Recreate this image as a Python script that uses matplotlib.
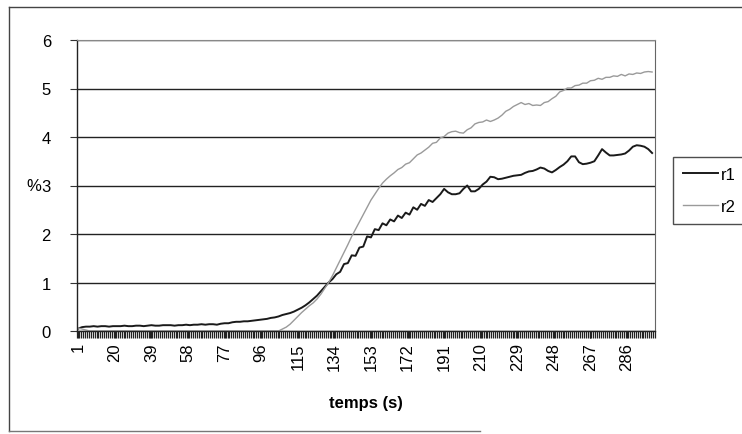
import numpy as np
import matplotlib.pyplot as plt
import matplotlib
from matplotlib.lines import Line2D

matplotlib.rcParams['font.family'] = ['Liberation Sans', 'DejaVu Sans']

# ============================================================
# Données (un point toutes les 2 s)
# ============================================================

temps = list(range(1, 300, 2))

r1 = [0.05, 0.08, 0.09, 0.09, 0.10, 0.09, 0.10, 0.10, 0.09, 0.10,
      0.10, 0.10, 0.11, 0.10, 0.10, 0.11, 0.11, 0.10, 0.11, 0.12,
      0.11, 0.11, 0.12, 0.12, 0.12, 0.11, 0.12, 0.12, 0.13, 0.12,
      0.13, 0.13, 0.14, 0.13, 0.14, 0.14, 0.13, 0.15, 0.16, 0.16,
      0.18, 0.19, 0.19, 0.20, 0.20, 0.21, 0.22, 0.23, 0.24, 0.25,
      0.27, 0.28, 0.30, 0.33, 0.35, 0.37, 0.40, 0.44, 0.48, 0.53,
      0.59, 0.66, 0.73, 0.82, 0.91, 1.00, 1.07, 1.17, 1.22, 1.38,
      1.40, 1.56, 1.55, 1.72, 1.74, 1.95, 1.93, 2.10, 2.08, 2.22,
      2.18, 2.30, 2.26, 2.38, 2.33, 2.44, 2.40, 2.55, 2.50, 2.62,
      2.58, 2.70, 2.66, 2.74, 2.82, 2.93, 2.86, 2.82, 2.82, 2.84,
      2.93, 3.00, 2.88, 2.88, 2.93, 3.02, 3.08, 3.18, 3.17, 3.13,
      3.14, 3.16, 3.18, 3.20, 3.21, 3.22, 3.26, 3.29, 3.30, 3.33,
      3.37, 3.35, 3.30, 3.27, 3.32, 3.38, 3.43, 3.50, 3.60, 3.60,
      3.48, 3.44, 3.45, 3.47, 3.50, 3.62, 3.75, 3.68, 3.62, 3.62,
      3.63, 3.64, 3.66, 3.72, 3.80, 3.83, 3.82, 3.80, 3.75, 3.67]

r2 = [0.06, 0.04, 0.02, 0.00, 0.00, 0.00, 0.00, 0.00, 0.00, 0.00,
      0.00, 0.00, 0.00, 0.00, 0.00, 0.00, 0.00, 0.00, 0.00, 0.00,
      0.00, 0.00, 0.00, 0.00, 0.00, 0.00, 0.00, 0.00, 0.00, 0.00,
      0.00, 0.00, 0.00, 0.00, 0.00, 0.00, 0.00, 0.00, 0.00, 0.00,
      0.00, 0.00, 0.00, 0.00, 0.00, 0.00, 0.00, 0.00, 0.00, 0.00,
      0.00, 0.00, 0.00, 0.04, 0.08, 0.14, 0.22, 0.30, 0.38, 0.45,
      0.52, 0.58, 0.66, 0.76, 0.88, 1.00, 1.14, 1.30, 1.46, 1.62,
      1.78, 1.95, 2.10, 2.25, 2.40, 2.55, 2.70, 2.82, 2.94, 3.05,
      3.13, 3.20, 3.26, 3.33, 3.37, 3.44, 3.47, 3.55, 3.63, 3.67,
      3.73, 3.79, 3.87, 3.89, 3.98, 4.01, 4.08, 4.11, 4.12, 4.09,
      4.08, 4.15, 4.19, 4.27, 4.30, 4.31, 4.35, 4.32, 4.35, 4.39,
      4.45, 4.53, 4.57, 4.63, 4.67, 4.71, 4.67, 4.69, 4.65, 4.66,
      4.65, 4.71, 4.73, 4.79, 4.84, 4.93, 4.96, 5.01, 5.01, 5.06,
      5.07, 5.11, 5.11, 5.16, 5.17, 5.21, 5.19, 5.23, 5.23, 5.26,
      5.25, 5.29, 5.26, 5.30, 5.29, 5.32, 5.31, 5.34, 5.35, 5.34]

xtick_labels = list(range(1, 300, 19))
yticks = [0, 1, 2, 3, 4, 5, 6]


fig = plt.figure(figsize=(7.42, 4.35), dpi=100)
W, H = 742, 435

# cadre extérieur du graphique (style Excel)
fig.add_artist(Line2D([9 / W, 741 / W], [1 - 8 / H, 1 - 8 / H], color='#444', lw=1.0))
fig.add_artist(Line2D([9 / W, 9 / W], [1 - 8 / H, 1 - 432 / H], color='#444', lw=1.0))
fig.add_artist(Line2D([9 / W, 480 / W], [1 - 432 / H, 1 - 432 / H], color='#777', lw=1.0))

ax = fig.add_axes([77.3 / W, 1 - 332 / H, (655 - 77.3) / W, (332 - 41) / H])

ax.plot(temps, r1, color='#1a1a1a', lw=1.4, label='r1')
ax.plot(temps, r2, color='#9a9a9a', lw=1.0, label='r2')

ax.set_xlim(0.5, 300.5)
ax.set_ylim(0, 6)

ax.set_yticks(yticks)
ax.set_yticklabels([str(v) for v in yticks], fontsize=12)
ax.set_xticks(xtick_labels)
ax.set_xticklabels([str(v) for v in xtick_labels], rotation=90, fontsize=12)
ax.set_xticks(np.arange(0.5, 301, 1), minor=True)
ax.tick_params(axis='x', which='both', direction='out', length=5, width=0.9, color='#222', pad=3)
ax.tick_params(axis='y', direction='out', length=5, width=0.8, color='#333', pad=14)

ax.grid(axis='y', color='#222', lw=1.0)
ax.set_axisbelow(True)
for side in ['left', 'bottom']:
    ax.spines[side].set_color('#222')
    ax.spines[side].set_linewidth(1.0)
ax.spines['top'].set_color('#888')
ax.spines['top'].set_linestyle((0, (2, 1)))
ax.spines['right'].set_color('#666')
ax.spines['right'].set_linewidth(0.8)

ax.set_xlabel("temps (s)", fontsize=12, fontweight='bold', labelpad=18)
# le "%" est collé au "3" comme dans Excel
fig.text(41 / W, 1 - 187 / H, "%", fontsize=12, ha='right', va='center')

leg = ax.legend(loc='upper left', bbox_to_anchor=(673 / W, 1 - 158 / H),
                bbox_transform=fig.transFigure, fontsize=12, frameon=True,
                fancybox=False, edgecolor='#222', handlelength=2.1,
                handletextpad=0.2, borderpad=0.6, labelspacing=1.0,
                borderaxespad=0)
leg.get_frame().set_linewidth(1.0)

fig.savefig("out.png", dpi=100)
